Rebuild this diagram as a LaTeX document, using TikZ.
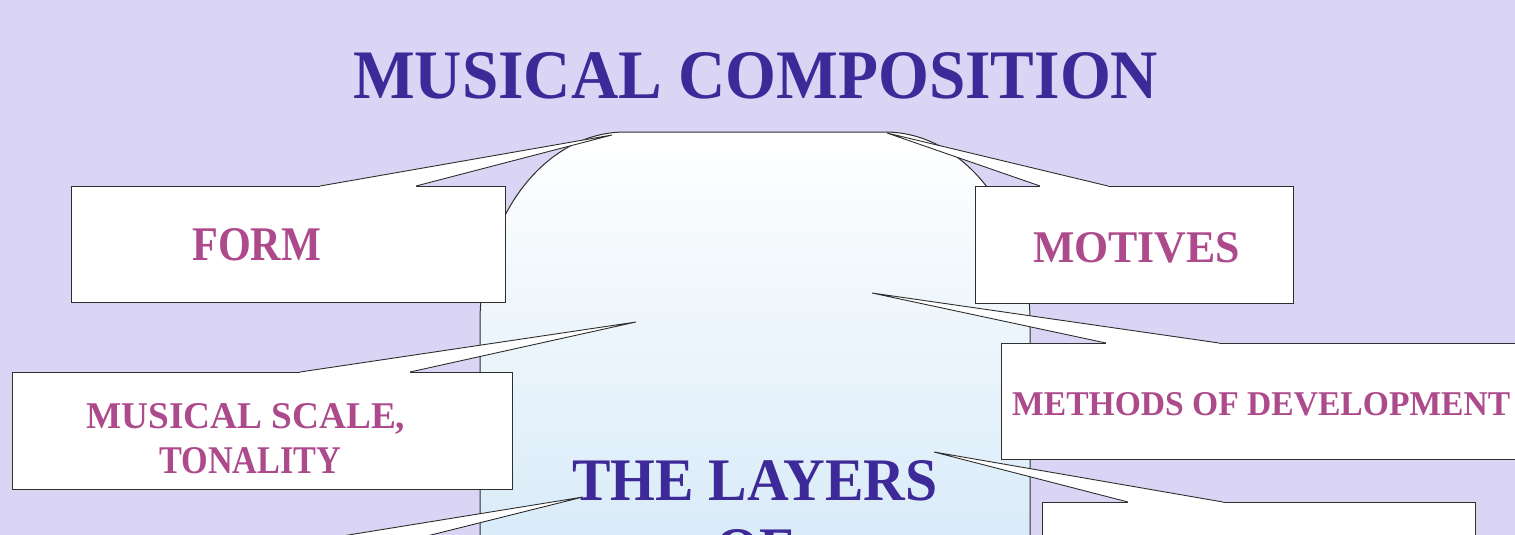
\documentclass[tikz,border=0pt]{standalone}
\usepackage{fontspec}
\setmainfont{Liberation Serif}
\usepackage{graphicx}
\usetikzlibrary{calc}
\definecolor{bglav}{HTML}{DAD5F4}
\definecolor{titleblue}{HTML}{3D2A98}
\definecolor{labmag}{HTML}{AC4A8C}
\definecolor{paleblue}{HTML}{D6EAF8}
\definecolor{edgegray}{HTML}{2E2E2E}
\newcommand{\mcfit}[3]{\resizebox{#1pt}{#2pt}{#3}}
\begin{document}
\begin{tikzpicture}[x=1pt,y=-1pt,
  cbox/.style={draw=edgegray, line width=1pt, fill=white, rectangle, inner sep=0pt},
  wedgeline/.style={draw=edgegray, line width=0.9pt, line join=miter},
  lab/.style={anchor=base west, inner sep=0pt, text=labmag, font=\bfseries},
  bigtxt/.style={inner sep=0pt, text=titleblue, font=\bfseries}]
\useasboundingbox (0,0) rectangle (1515,535);
\fill[bglav] (0,0) rectangle (1515,535);
\clip (0,0) rectangle (1515,535);

% central shape
\shade[top color=white, bottom color=paleblue]
  (480,570) -- (480,322) .. controls (480,217) and (545,132) .. (625,132)
  -- (885,132) .. controls (965,132) and (1030,217) .. (1030,322) -- (1030,570) -- cycle;
\draw[edgegray, line width=1pt]
  (480,570) -- (480,322) .. controls (480,217) and (545,132) .. (625,132)
  -- (885,132) .. controls (965,132) and (1030,217) .. (1030,322) -- (1030,570);

% callout boxes
\node[cbox, minimum width=434pt, minimum height=116pt] (formbox) at (288,244) {};
\node[cbox, minimum width=318pt, minimum height=117pt] (motbox) at (1134,244.5) {};
\node[cbox, minimum width=500pt, minimum height=117pt] (scalebox) at (262,430.5) {};
\node[cbox, minimum width=524pt, minimum height=116pt] (methbox) at (1263,401) {};
\node[cbox, minimum width=433pt, minimum height=118pt] (lrbox) at (1258.5,561) {};
\node[cbox, minimum width=500pt, minimum height=118pt] (llbox) at (250,614) {};

% pointer tips and bases
\coordinate (formtip) at (612,135);
\coordinate (forma) at (320,186);  \coordinate (formb) at (416,186);
\coordinate (mottip) at (887,133);
\coordinate (mota) at (1040,186);  \coordinate (motb) at (1108,186);
\coordinate (scaletip) at (636,322);
\coordinate (scalea) at (300,372); \coordinate (scaleb) at (410,372);
\coordinate (methtip) at (872,293);
\coordinate (metha) at (1106,343); \coordinate (methb) at (1219,343);
\coordinate (lrtip) at (934,452);
\coordinate (lra) at (1128,502);   \coordinate (lrb) at (1223,502);
\coordinate (lltip) at (583,497);
\coordinate (lla) at (225,555);    \coordinate (llb) at (351,555);

\foreach \n in {form,mot,scale,meth,lr,ll}{
  \fill[white] ($(\n a)+(0,1.5)$) -- (\n a) -- (\n tip) -- (\n b) -- ($(\n b)+(0,1.5)$) -- cycle;
  \draw[wedgeline] (\n a) -- (\n tip) -- (\n b);
}

% texts
\node[bigtxt, anchor=base west] (title) at (353,98) {\mcfit{805}{46}{MUSICAL COMPOSITION}};
\node[lab] (formtxt) at (192,260) {\mcfit{129}{32}{FORM}};
\node[lab] (mottxt) at (1033,262) {\mcfit{207}{30}{MOTIVES}};
\node[lab] (scaletxt) at (86,428) {\mcfit{319}{25}{MUSICAL SCALE,}};
\node[lab] (tontxt) at (159,473) {\mcfit{182}{26}{TONALITY}};
\node[lab] (methtxt) at (1012,415) {\mcfit{498}{23}{METHODS OF DEVELOPMENT}};
\node[bigtxt, anchor=base west] (layers) at (572,500) {\mcfit{365}{40}{THE LAYERS}};
\node[bigtxt, anchor=base] (oftxt) at (755,569) {\mcfit{79}{40}{OF}};
\end{tikzpicture}
\end{document}
